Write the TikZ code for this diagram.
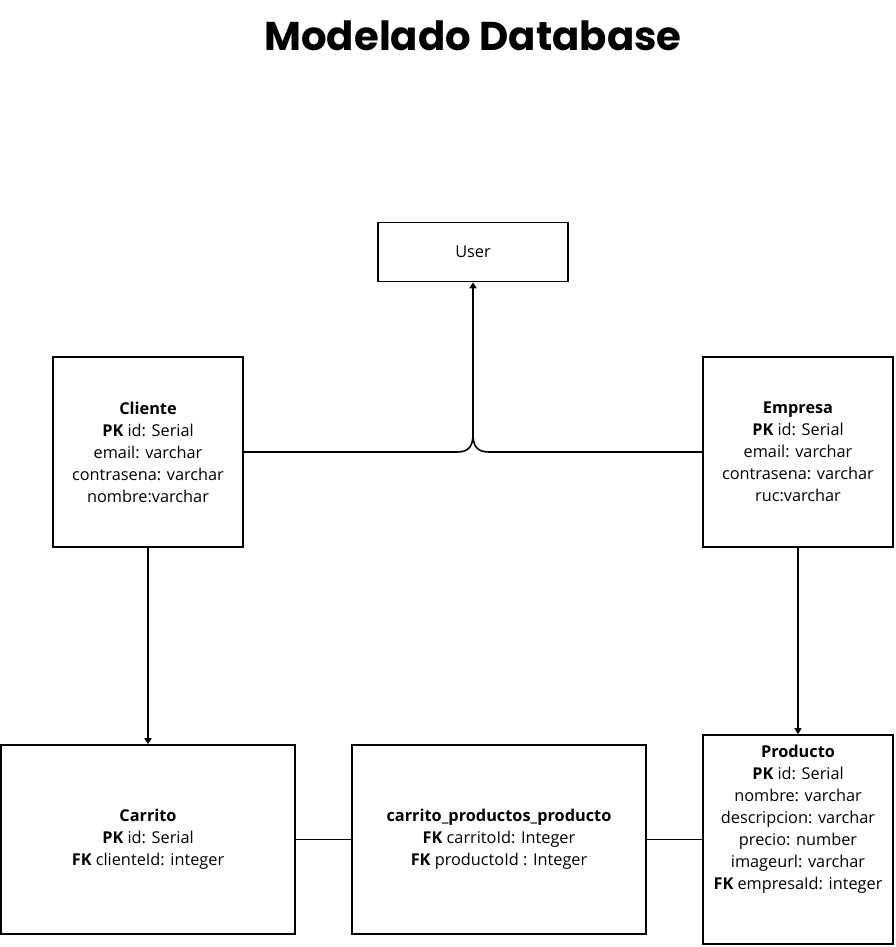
\documentclass[tikz,border=0pt]{standalone}
\usepackage{fontspec}
\setmainfont{Open Sans}
\newfontfamily\titlefont{Poppins}
\usetikzlibrary{arrows.meta}
\begin{document}
\begin{tikzpicture}[x=1pt,y=-1pt,
  box/.style={draw=black, line width=1.6pt, rectangle, inner sep=0pt, align=center,
    font=\fontsize{16.3}{22}\selectfont},
  conn/.style={line width=1.6pt, black},
  arr/.style={conn, -{Triangle[width=7pt,length=6pt]}}]
\useasboundingbox (0,0) rectangle (895,947);
\node[font=\titlefont\bfseries\fontsize{40.2}{46}\selectfont] (title) at (473,36) {Modelado Database};
\node[box, minimum width=190pt, minimum height=59pt] (user) at (473,252) {User};
\node[box, minimum width=190pt, minimum height=190pt] (cli) at (148,452)
 {\textbf{Cliente}\\\textbf{PK} id: Serial\\email: varchar\\contrasena: varchar\\nombre:varchar};
\node[box, minimum width=190pt, minimum height=190pt] (emp) at (798,452)
 {\textbf{Empresa}\\\textbf{PK} id: Serial\\email: varchar\\contrasena: varchar\\ruc:varchar};
\node[box, minimum width=294pt, minimum height=189pt] (car) at (148,839.5)
 {\textbf{Carrito}\\\textbf{PK} id: Serial\\\textbf{FK} clienteId: integer};
\node[box, minimum width=294pt, minimum height=189pt] (cpp) at (499,839.5)
 {\textbf{carrito\_productos\_producto}\\\textbf{FK} carritoId: Integer\\\textbf{FK} productoId : Integer};
\node[box, minimum width=190pt, minimum height=209pt] (prod) at (798,839.5)
 {\textbf{Producto}\\\textbf{PK} id: Serial\\nombre: varchar\\descripcion: varchar\\precio: number\\imageurl: varchar\\\textbf{FK} empresaId: integer\\\mbox{}\\\mbox{}};
\coordinate (jl) at (457,452);
\coordinate (jr) at (489,452);
\coordinate (jt) at (473,434);
\draw[arr] (cli.east) -- (jl) .. controls (469,452) and (473,446) .. (jt) -- (user.south);
\draw[conn] (emp.west) -- (jr) .. controls (477,452) and (473,446) .. (jt);
\draw[arr] (cli.south) -- (car.north -| cli.south);
\draw[arr] (emp.south) -- (prod.north);
\draw[conn] (car.east) -- (cpp.west);
\draw[conn] (cpp.east) -- (cpp.east -| prod.west);
\end{tikzpicture}
\end{document}
